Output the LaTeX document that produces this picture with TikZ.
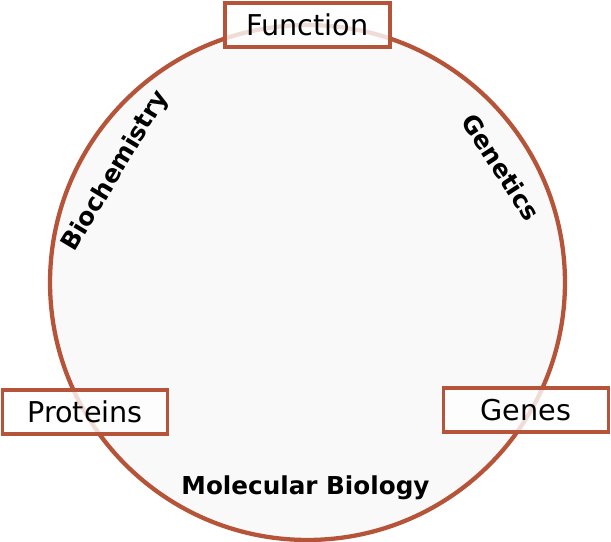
\documentclass[tikz,border=0pt]{standalone}
\usepackage{fontspec}
\setmainfont{DejaVu Sans}
\usepackage{tikz}
\usetikzlibrary{calc, positioning}
\usepackage{xcolor}
\definecolor{ringC}{RGB}{181, 84, 56}
\definecolor{discC}{RGB}{249, 249, 249}

\tikzset{
  fieldbox/.style={draw=ringC, line width=2.5pt, fill=white, fill opacity=0.8,
    text opacity=1, minimum width=123.75pt, minimum height=33pt, inner sep=0pt,
    font=\fontsize{21.5}{25}\selectfont},
  arclabel/.style={font=\fontsize{18.5}{22}\selectfont\bfseries, inner sep=0pt}
}

\begin{document}
\begin{tikzpicture}[x=0.75pt, y=-0.75pt]
  \useasboundingbox[fill=white] (0,0) rectangle (611,542);
  \def\rr{193.1pt}
  \coordinate (cM) at (307.5, 282.5);

  % disc
  \draw[ringC, line width=3.2pt, fill=discC] (cM) circle[radius=\rr];

  % topics on the ring
  \node[fieldbox] (func) at (307.5, 25) {Function};
  \node[fieldbox] (prot) at (85, 412) {Proteins};
  \node[fieldbox] (gene) at (526, 410) {Genes};

  % disciplines
  \node[arclabel, rotate=59] (bioch) at (116, 171) {Biochemistry};
  \node[arclabel, rotate=-57] (genet) at (501, 167) {Genetics};
  \node[arclabel] (molbio) at (305.5, 488) {Molecular Biology};
\end{tikzpicture}
\end{document}
